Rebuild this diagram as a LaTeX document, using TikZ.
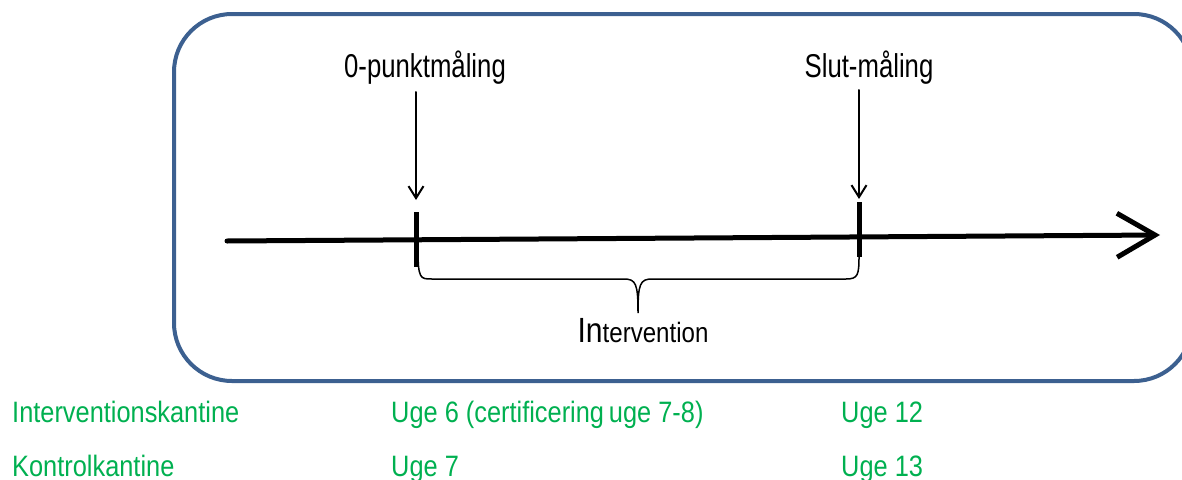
\documentclass[tikz,border=0pt]{standalone}
\usepackage{fontspec}
\setmainfont{Liberation Sans}
\newfontfamily\narrowsans[FakeStretch=0.78]{Liberation Sans}
\newfontfamily\weeksans[FakeStretch=0.86]{Liberation Sans}
\usetikzlibrary{arrows.meta}
\definecolor{frameblue}{HTML}{3C6090}
\definecolor{weekgreen}{HTML}{00B050}

\begin{document}
\begin{tikzpicture}[x=1pt, y=-1pt, line cap=round]
    \tikzset{FrameStyle/.style = {draw          = frameblue,
                                  line width    = 4pt,
                                  rounded corners = 58pt}}
    \tikzset{AxisStyle/.style = {line width = 5pt,
                                 -{Straight Barb[length=38pt, width=44pt]}}}
    \tikzset{TickStyle/.style = {line width = 5pt, line cap = butt}}
    \tikzset{PointerStyle/.style = {line width = 2pt,
                                    -{Straight Barb[length=12pt, width=15pt]}}}
    \tikzset{LabelStyle/.style = {anchor = base, inner sep = 0pt,
                                  font = \narrowsans\fontsize{33}{33}\selectfont}}
    \tikzset{WeekStyle/.style = {anchor = base west, inner sep = 0pt,
                                 text = weekgreen,
                                 font = \weeksans\fontsize{29.5}{29.5}\selectfont}}
    \useasboundingbox (0,0) rectangle (1182,479);
    % frame
    \draw[FrameStyle] (174,14) rectangle (1192,381);
    % time axis
    \coordinate (Start) at (227,241);
    \coordinate (End)   at (1160,235);
    \draw[AxisStyle] (Start) -- (End);
    % measurement points
    \coordinate (ZeroTop) at (416,212);
    \coordinate (ZeroBot) at (416,267);
    \coordinate (SlutTop) at (859,202);
    \coordinate (SlutBot) at (859,257);
    \draw[TickStyle] (ZeroTop) -- (ZeroBot);
    \draw[TickStyle] (SlutTop) -- (SlutBot);
    \node[LabelStyle] (Zero) at (425,77) {0-punktmåling};
    \node[LabelStyle] (Slut) at (869,77) {Slut-måling};
    \coordinate (ZeroFrom) at (416,92);
    \coordinate (ZeroTo)   at (416,200);
    \coordinate (SlutFrom) at (859,90);
    \coordinate (SlutTo)   at (859,199);
    \draw[PointerStyle] (ZeroFrom) -- (ZeroTo);
    \draw[PointerStyle] (SlutFrom) -- (SlutTo);
    % brace
    \coordinate (BraceL) at (418,248);
    \coordinate (BraceR) at (859,256);
    \coordinate (BraceTip) at (638,313);
    \draw[line width = 1.5pt]
        (BraceL) .. controls (418,279) and (420,279) .. (432,279) -- (624,279)
        .. controls (636,279) and (638,284) .. (BraceTip)
        .. controls (638,284) and (640,279) .. (652,279) -- (846,279)
        .. controls (858,279) and (859,275) .. (BraceR);
    \node[anchor = base, inner sep = 0pt] (Interv) at (643,342)
        {\weeksans\fontsize{35}{35}\selectfont In\fontsize{28}{28}\selectfont tervention};
    % weeks
    \node[WeekStyle] (KantI)  at (12,422)  {Interventionskantine};
    \node[WeekStyle] (KantK)  at (12,476)  {Kontrolkantine};
    \node[WeekStyle] (UgeI0)  at (391,422) {Uge 6 (certificering\,uge 7-8)};
    \node[WeekStyle] (UgeK0)  at (391,476) {Uge 7};
    \node[WeekStyle] (UgeI1)  at (841,422) {Uge 12};
    \node[WeekStyle] (UgeK1)  at (841,476) {Uge 13};
\end{tikzpicture}
\end{document}
